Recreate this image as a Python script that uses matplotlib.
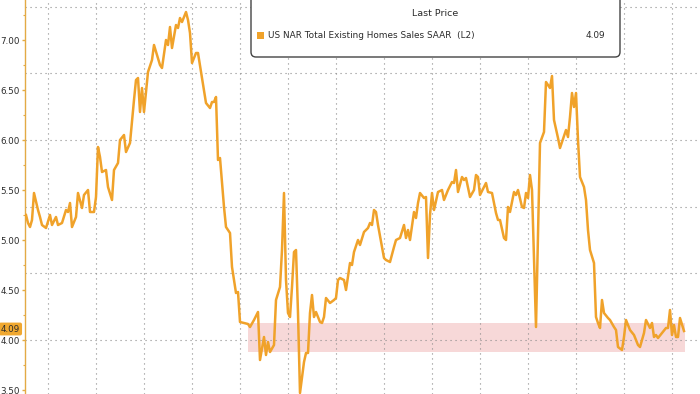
import numpy as np
import matplotlib
matplotlib.use("Agg")
import matplotlib.pyplot as plt
from matplotlib.patches import FancyBboxPatch, Rectangle

# month index (0 = first month shown) and SAAR value in millions
months = [0, 1, 2, 3, 4, 6, 7, 8, 10, 12, 13, 15, 16, 18, 20, 21, 22, 23, 25, 26,
          28, 29, 31, 32, 34, 35, 36, 37, 38, 40, 41, 43, 44, 46, 47, 49, 50, 52, 54, 55,
          56, 57, 58, 59, 61, 63, 64, 67, 68, 70, 71, 72, 73, 75, 76, 77, 78, 80, 81, 82,
          83, 85, 86, 88, 90, 92, 93, 94, 95, 96, 97, 99, 100, 102, 103, 105, 106, 107, 109, 111,
          112, 114, 116, 117, 119, 120, 121, 122, 124, 125, 127, 128, 129, 130, 131, 132, 133, 134, 135, 136,
          137, 139, 140, 141, 142, 143, 144, 145, 147, 148, 149, 150, 152, 154, 155, 156, 157, 159, 160, 162,
          163, 164, 166, 167, 169, 171, 172, 173, 174, 175, 176, 178, 179, 180, 182, 184, 185, 187, 189, 190,
          191, 192, 194, 195, 196, 197, 199, 200, 201, 202, 203, 204, 206, 208, 209, 211, 213, 214, 215, 216,
          218, 219, 220, 222, 224, 225, 226, 227, 230, 231, 233, 235, 236, 237, 239, 240, 241, 242, 244, 245,
          246, 248, 249, 250, 251, 252, 253, 255, 257, 259, 260, 262, 263, 264, 266, 267, 270, 271, 272, 273,
          274, 275, 276, 277, 279, 280, 281, 282, 284, 285, 286, 287, 288, 289, 291, 292, 294, 295, 296, 298,
          299, 300, 302, 304, 305, 306, 307, 309, 310, 312, 313, 314, 315, 316, 318, 320, 321, 322, 323, 324,
          325, 326, 327, 329]
sales = [5.25, 5.17, 5.13, 5.20, 5.47, 5.30, 5.23, 5.15, 5.12, 5.25, 5.15, 5.23, 5.15, 5.17, 5.30, 5.28, 5.37, 5.13, 5.23, 5.47,
         5.32, 5.45, 5.50, 5.28, 5.28, 5.43, 5.93, 5.83, 5.68, 5.70, 5.53, 5.40, 5.70, 5.77, 6.00, 6.05, 5.88, 5.97, 6.40, 6.60,
         6.62, 6.28, 6.52, 6.28, 6.68, 6.80, 6.95, 6.75, 6.72, 7.00, 6.95, 7.13, 6.92, 7.15, 7.12, 7.22, 7.18, 7.28, 7.20, 7.07,
         6.77, 6.87, 6.87, 6.62, 6.37, 6.32, 6.38, 6.38, 6.43, 5.80, 5.82, 5.33, 5.13, 5.07, 4.73, 4.47, 4.48, 4.18, 4.17, 4.16,
         4.13, 4.20, 4.28, 3.80, 4.03, 3.85, 3.98, 3.88, 3.95, 4.40, 4.53, 4.90, 5.47, 4.60, 4.27, 4.23, 4.53, 4.88, 4.90, 4.27,
         3.47, 3.78, 3.87, 3.87, 4.27, 4.45, 4.23, 4.28, 4.18, 4.17, 4.23, 4.42, 4.37, 4.40, 4.42, 4.60, 4.62, 4.60, 4.50, 4.77,
         4.75, 4.88, 5.00, 4.95, 5.08, 5.12, 5.17, 5.15, 5.30, 5.28, 5.15, 4.93, 4.82, 4.80, 4.78, 4.93, 5.00, 5.02, 5.15, 5.02,
         5.10, 5.00, 5.28, 5.22, 5.37, 5.47, 5.42, 5.43, 4.82, 5.25, 5.47, 5.30, 5.48, 5.50, 5.40, 5.50, 5.58, 5.57, 5.70, 5.48,
         5.63, 5.60, 5.62, 5.43, 5.50, 5.65, 5.63, 5.45, 5.57, 5.48, 5.47, 5.27, 5.20, 5.20, 5.02, 5.00, 5.33, 5.28, 5.48, 5.45,
         5.50, 5.33, 5.32, 5.47, 5.42, 5.65, 5.50, 4.13, 5.97, 6.08, 6.58, 6.52, 6.64, 6.20, 6.02, 5.92, 6.10, 6.03, 6.23, 6.47,
         6.33, 6.47, 6.00, 5.63, 5.53, 5.40, 5.10, 4.90, 4.77, 4.23, 4.17, 4.12, 4.40, 4.27, 4.22, 4.20, 4.13, 4.10, 3.93, 3.90,
         4.03, 4.20, 4.10, 4.05, 4.00, 3.95, 3.93, 4.07, 4.20, 4.12, 4.17, 4.03, 4.05, 4.02, 4.07, 4.12, 4.12, 4.30, 4.05, 4.15,
         4.03, 4.03, 4.22, 4.09]

last_price = 4.09
series_name = "US NAR Total Existing Homes Sales SAAR  (L2)"
band_range = (111, 329.5)
band_levels = (3.88, 4.17)
grid_y = [4.0, 4.0 + 2 / 3, 4.0 + 4 / 3, 6.0, 6.0 + 2 / 3, 6.0 + 4 / 3]
grid_x = [11 + 24 * k for k in range(14)]

orange = '#f0a22a'
txt = '#2b2b2b'

fig = plt.figure(figsize=(7, 3.94), dpi=100)
ax = fig.add_axes([25 / 700, 0, 675 / 700, 1])
ax.set_xlim(-0.5, 337)
ax.set_ylim(3.46, 7.40)

# dotted grid
for g in grid_y:
    ax.axhline(g, color='#8c8c8c', lw=0.8, ls=(0, (1, 3.5)), zorder=1)
for g in grid_x:
    ax.axvline(g, color='#8c8c8c', lw=0.8, ls=(0, (1, 3.5)), zorder=1)

# pink band
ax.fill_between(band_range, band_levels[0], band_levels[1],
                color='#f2b8b8', alpha=0.55, lw=0, zorder=0.5)

ax.plot(months, sales, color=orange, lw=1.8, zorder=3, solid_joinstyle='round')

# axes look
for s in ['top', 'right', 'bottom']:
    ax.spines[s].set_visible(False)
ax.spines['left'].set_color('#e3aa45')
ax.spines['left'].set_linewidth(1.0)
ax.set_xticks([])
ax.set_yticks(np.arange(3.5, 7.01, 0.5))
ax.set_yticks(np.arange(3.5, 7.3, 0.25), minor=True)
ax.set_yticklabels(['%.2f' % v for v in np.arange(3.5, 7.01, 0.5)])
ax.tick_params(axis='y', which='major', direction='out', length=2.5, width=1,
               color='#e3aa45', labelsize=6.3, labelcolor=txt, pad=1)
ax.tick_params(axis='y', which='minor', direction='out', length=1.8, width=0.8,
               color='#e3aa45')

# last value tag on the axis
ax.annotate('%.2f' % last_price, xy=(-0.0215, last_price + 0.02),
            xycoords=('axes fraction', 'data'), ha='center', va='center',
            fontsize=6.3, color=txt, annotation_clip=False, zorder=10,
            bbox=dict(boxstyle='round,pad=0.22', fc='#f0a830', ec='none'))

# legend box (inch coords)
tr = fig.dpi_scale_trans
box = FancyBboxPatch((2.51, 3.37), 3.69, 0.70, boxstyle='round,pad=0,rounding_size=0.05',
                     transform=tr, fc='white', ec='#444444', lw=1.0, zorder=20)
fig.patches.append(box)
fig.text(4.35, 3.80, 'Last Price', transform=tr, ha='center', va='center',
         fontsize=6.8, color=txt, zorder=21)
fig.patches.append(Rectangle((2.57, 3.555), 0.065, 0.065, transform=tr,
                             fc=orange, ec='none', zorder=21))
fig.text(2.68, 3.59, series_name, transform=tr, ha='left', va='center',
         fontsize=6.4, color=txt, zorder=21)
fig.text(6.05, 3.59, '%.2f' % last_price, transform=tr, ha='right', va='center',
         fontsize=6.4, color=txt, zorder=21)

fig.savefig('out.png', dpi=100)
